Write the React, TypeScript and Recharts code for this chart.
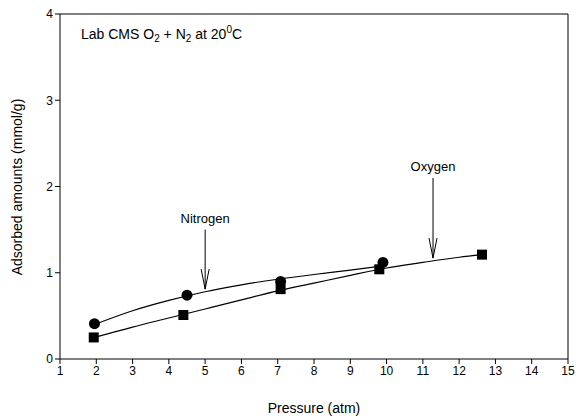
import React from 'react';
import {
  ComposedChart,
  Line,
  Scatter,
  XAxis,
  YAxis,
  ReferenceLine,
} from 'recharts';

// measured points (circles = nitrogen, squares = oxygen)
const nitrogenPoints = [
  { x: 1.95, y: 0.41 },
  { x: 4.5, y: 0.74 },
  { x: 7.08, y: 0.9 },
  { x: 9.9, y: 1.12 },
];

const oxygenPoints = [
  { x: 1.93, y: 0.25 },
  { x: 4.4, y: 0.51 },
  { x: 7.08, y: 0.81 },
  { x: 9.8, y: 1.04 },
  { x: 12.63, y: 1.21 },
];

// fitted curves
const nitrogenFit = [
  { x: 1.95, y: 0.4 },
  { x: 3, y: 0.56 },
  { x: 4, y: 0.68 },
  { x: 5, y: 0.78 },
  { x: 6, y: 0.86 },
  { x: 7, y: 0.925 },
  { x: 8, y: 0.98 },
  { x: 9, y: 1.03 },
  { x: 9.9, y: 1.08 },
];

const oxygenFit = [
  { x: 1.95, y: 0.25 },
  { x: 3, y: 0.37 },
  { x: 4, y: 0.475 },
  { x: 5, y: 0.58 },
  { x: 6, y: 0.685 },
  { x: 7, y: 0.79 },
  { x: 8, y: 0.88 },
  { x: 9, y: 0.97 },
  { x: 10, y: 1.055 },
  { x: 11, y: 1.12 },
  { x: 12, y: 1.18 },
  { x: 12.63, y: 1.21 },
];

const xTicks = [1, 2, 3, 4, 5, 6, 7, 8, 9, 10, 11, 12, 13, 14, 15];
const yTicks = [0, 1, 2, 3, 4];

const arrows = [
  { label: 'Nitrogen', x: 5.0, top: 1.5, tip: 0.81 },
  { label: 'Oxygen', x: 11.28, top: 2.1, tip: 1.17 },
];

const FONT = '"Liberation Sans", Arial, sans-serif';

const Dot = (props: any) => {
  const { cx, cy } = props;
  return <circle cx={cx} cy={cy} r={5.5} fill="#000" />;
};

const Square = (props: any) => {
  const { cx, cy } = props;
  return <rect x={cx - 5} y={cy - 5} width={10} height={10} fill="#000" />;
};

const arrowShape = (label: string) => (props: any) => {
  const { x1, y1, x2, y2 } = props;
  const topY = Math.min(y1, y2);
  const tipY = Math.max(y1, y2);
  const x = x1;
  return (
    <g>
      <line x1={x} y1={topY} x2={x} y2={tipY} stroke="#000" strokeWidth={1} />
      <polyline
        points={`${x - 4},${tipY - 20} ${x},${tipY} ${x + 4},${tipY - 20}`}
        fill="none"
        stroke="#000"
        strokeWidth={1}
      />
      <text x={x} y={topY - 7} textAnchor="middle" fontSize={13} fontFamily={FONT} fill="#000">
        {label}
      </text>
    </g>
  );
};

const YLabel = () => (
  <text
    transform="translate(22,187) rotate(-90)"
    textAnchor="middle"
    fontSize={14}
    fontFamily={FONT}
    fill="#000"
  >
    Adsorbed amounts (mmol/g)
  </text>
);

export default function App() {
  return (
    <div style={{ position: 'absolute', left: 0, top: 0, width: 576, height: 418, background: '#fff' }}>
      <ComposedChart
        width={576}
        height={418}
        margin={{ top: 14, right: 8, left: 0, bottom: 0 }}
      >
        <XAxis
          type="number"
          dataKey="x"
          domain={[1, 15]}
          ticks={xTicks}
          allowDataOverflow
          height={59}
          stroke="#000"
          tickSize={5}
          tick={{ fill: '#000', fontSize: 12, fontFamily: FONT }}
          label={{ value: 'Pressure (atm)', position: 'insideBottom', offset: 5, fill: '#000', fontSize: 14, fontFamily: FONT }}
        />
        <YAxis
          type="number"
          dataKey="y"
          domain={[0, 4]}
          ticks={yTicks}
          allowDataOverflow
          width={60}
          stroke="#000"
          tickSize={5}
          tick={{ fill: '#000', fontSize: 12, fontFamily: FONT }}
          label={<YLabel />}
        />
        <ReferenceLine y={4} stroke="#000" strokeWidth={1} />
        <ReferenceLine x={15} stroke="#000" strokeWidth={1} />
        <Line data={nitrogenFit} dataKey="y" type="monotone" stroke="#000" strokeWidth={1.2} dot={false} isAnimationActive={false} />
        <Line data={oxygenFit} dataKey="y" type="monotone" stroke="#000" strokeWidth={1.2} dot={false} isAnimationActive={false} />
        <Scatter data={nitrogenPoints} dataKey="y" shape={<Dot />} isAnimationActive={false} />
        <Scatter data={oxygenPoints} dataKey="y" shape={<Square />} isAnimationActive={false} />
        {arrows.map((a) => (
          <ReferenceLine
            key={a.label}
            segment={[{ x: a.x, y: a.top }, { x: a.x, y: a.tip }]}
            shape={arrowShape(a.label)}
          />
        ))}
      </ComposedChart>
      <div
        style={{
          position: 'absolute',
          left: 81,
          top: 24,
          fontFamily: FONT,
          fontSize: 14,
          color: '#000',
          whiteSpace: 'nowrap',
        }}
      >
        Lab CMS O<sub style={{ fontSize: 10 }}>2</sub> + N<sub style={{ fontSize: 10 }}>2</sub> at 20<sup style={{ fontSize: 10 }}>0</sup>C
      </div>
    </div>
  );
}
